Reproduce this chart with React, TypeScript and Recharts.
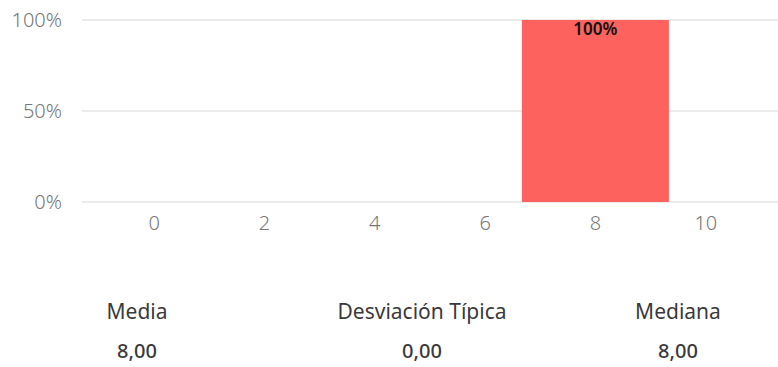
import React from "react";
import { BarChart, Bar, XAxis, YAxis, CartesianGrid, LabelList, Rectangle } from "recharts";

const categories = ["0", "2", "4", "6", "8", "10"];
const shares = [0, 0, 0, 0, 1, 0];
const yTicks = [0, 0.5, 1];

const statNames = ["Media", "Desviación Típica", "Mediana"];
const statValues = ["8,00", "0,00", "8,00"];

const FONT = "'Noto Sans', 'Open Sans', sans-serif";
const pct = (v: number) => `${Math.round(v * 100)}%`;

const data = categories.map((c, i) => ({ bin: c, share: shares[i] }));

// column centres for the summary row under the chart
const statCenters = [137, 422, 678];
const BAR_W = 147;

// bars in the original are wider than one category step, so widen around the centre
const WideBar = (props: any) => {
  const { x, width } = props;
  if (x == null || width == null) return null;
  return <Rectangle {...props} x={x + width / 2 - BAR_W / 2} width={BAR_W} />;
};

export default function App() {
  return (
    <div style={{ position: "absolute", left: 0, top: 0, width: 778, height: 367, background: "#fff", fontFamily: FONT }}>
      <BarChart width={778} height={240} data={data} margin={{ top: 20, right: 0, left: 0, bottom: 0 }}>
        <CartesianGrid vertical={false} stroke="#e4e4e4" strokeWidth={1.5} />
        <XAxis
          dataKey="bin"
          height={38}
          axisLine={false}
          tickLine={false}
          tickMargin={8}
          padding={{ left: 17, right: 17 }}
          tick={{ fill: "#777", fontSize: 20, fontWeight: 300, fontFamily: FONT }}
        />
        <YAxis
          width={82}
          domain={[0, 1]}
          ticks={yTicks}
          tickFormatter={pct}
          axisLine={false}
          tickLine={false}
          tickMargin={14}
          tick={{ fill: "#777", fontSize: 20, fontWeight: 300, fontFamily: FONT }}
        />
        <Bar dataKey="share" fill="#FD625E" shape={WideBar} isAnimationActive={false}>
          <LabelList
            dataKey="share"
            position="insideTop"
            offset={3}
            formatter={(v: unknown) => (Number(v) > 0 ? pct(Number(v)) : "")}
            style={{ fill: "#111", fontSize: 17, fontWeight: 600, fontFamily: FONT }}
          />
        </Bar>
      </BarChart>
      {statNames.map((name, i) => (
        <div
          key={name}
          style={{
            position: "absolute",
            left: statCenters[i] - 130,
            width: 260,
            top: 297,
            textAlign: "center",
            color: "#3a3a3a",
          }}
        >
          <div style={{ fontSize: 21, lineHeight: "29px" }}>{name}</div>
          <div style={{ fontSize: 20, fontWeight: 500, lineHeight: "27px", marginTop: 11 }}>{statValues[i]}</div>
        </div>
      ))}
    </div>
  );
}
